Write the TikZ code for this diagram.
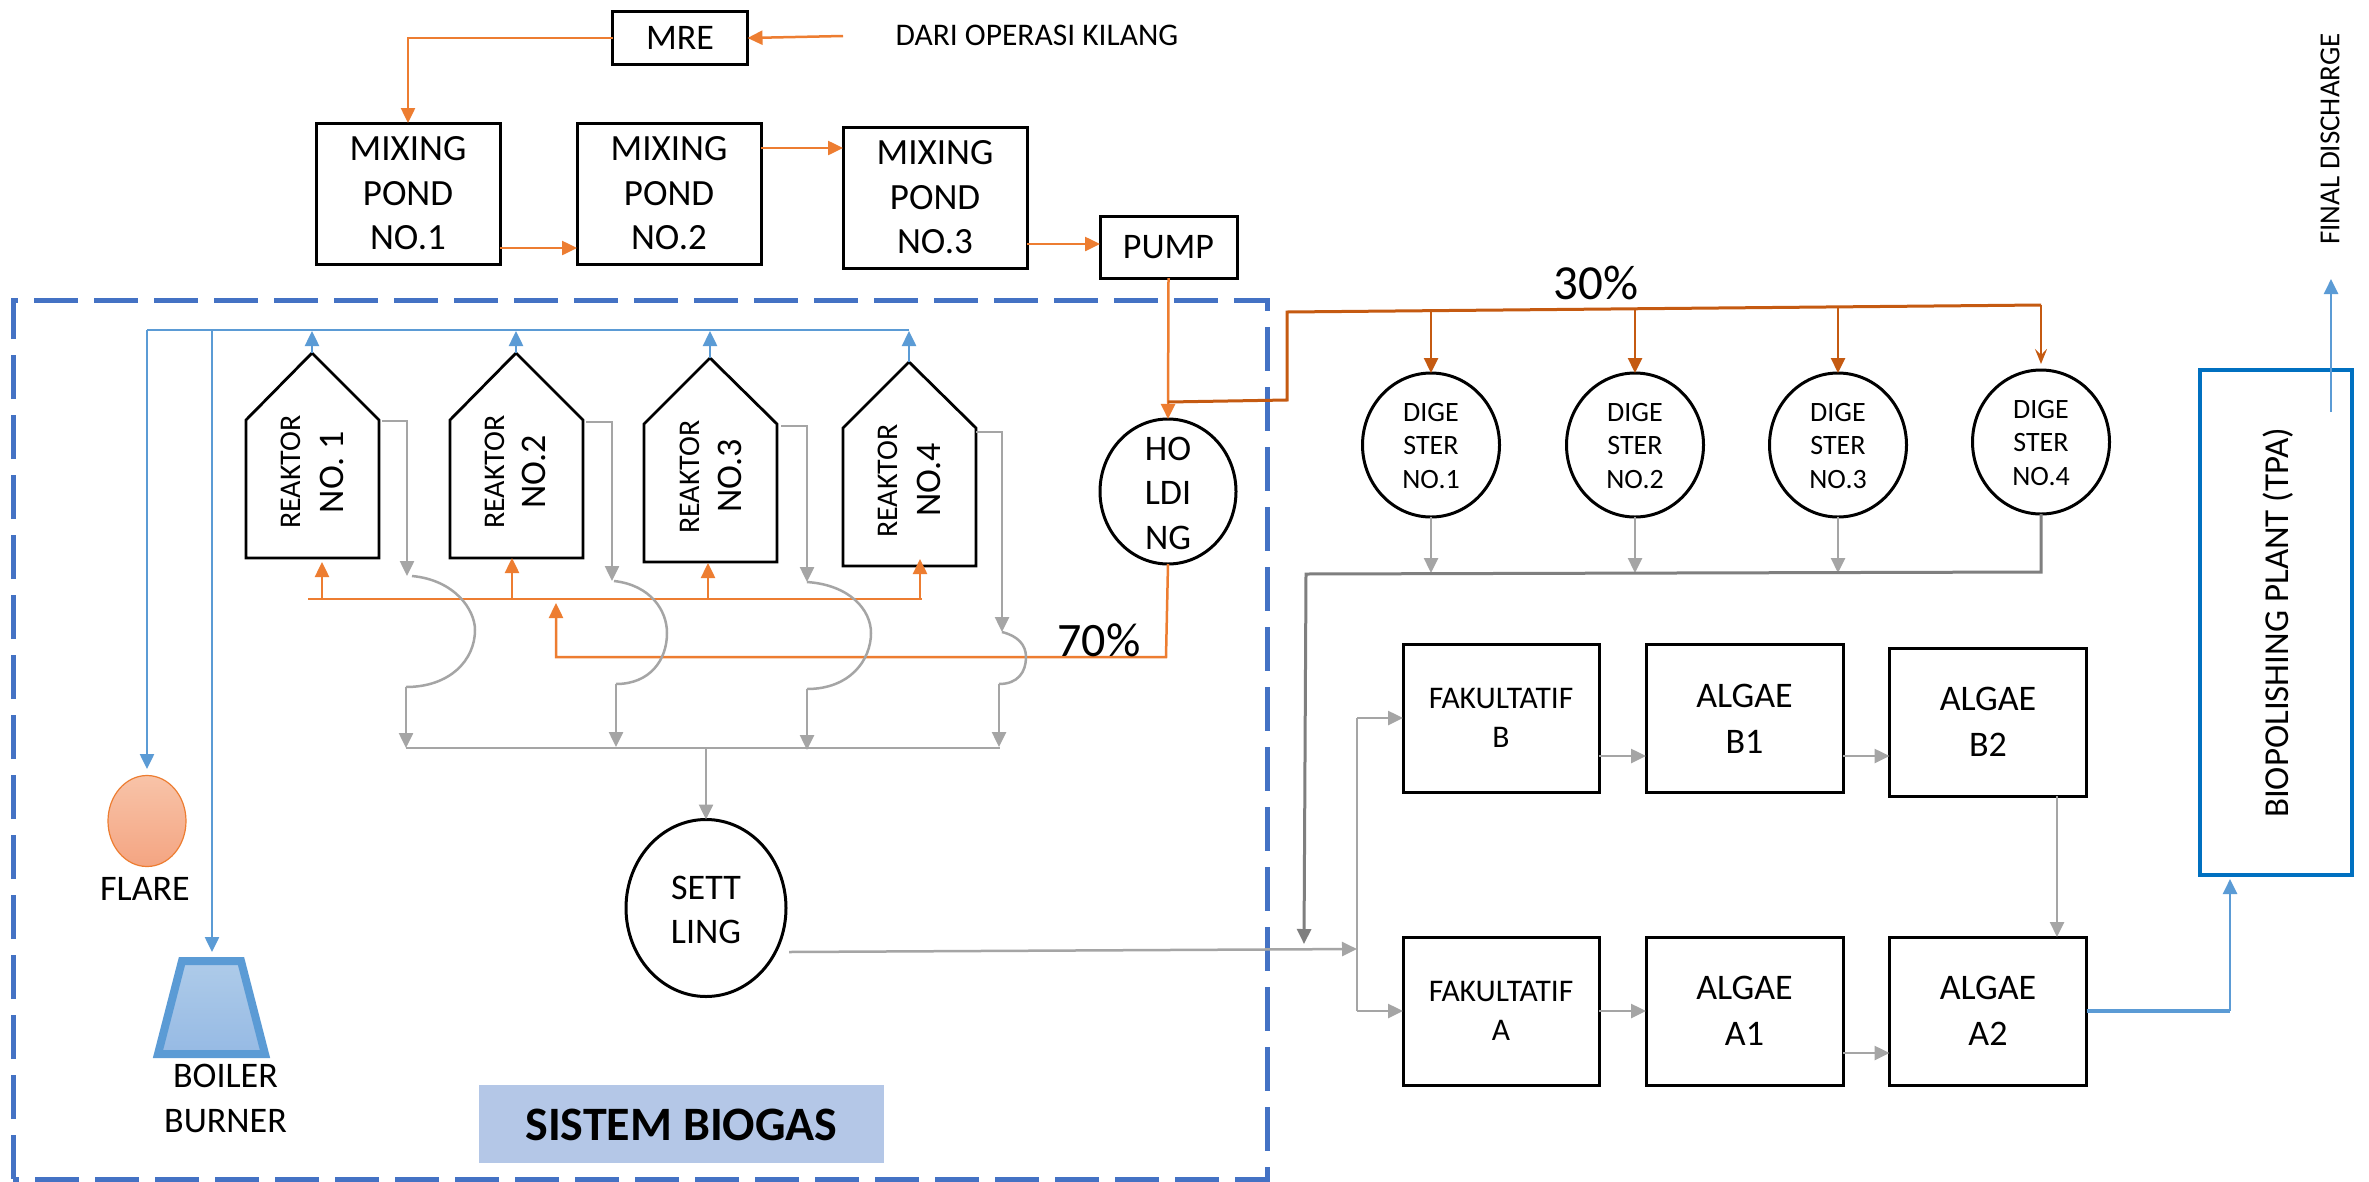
\documentclass[tikz,border=0pt]{standalone}
\usepackage{fontspec}
\setmainfont{Carlito}
\usetikzlibrary{arrows.meta,calc,shapes.geometric}
\definecolor{og}{HTML}{ED7D31}
\definecolor{dog}{HTML}{C55A11}
\definecolor{gy}{HTML}{A5A5A5}
\definecolor{dgy}{HTML}{7F7F7F}
\definecolor{bl}{HTML}{5B9BD5}
\definecolor{dsh}{HTML}{4472C4}
\definecolor{tpa}{HTML}{0070C0}
\definecolor{flt}{HTML}{F8C3A8}
\definecolor{flb}{HTML}{F4A582}
\definecolor{bot}{HTML}{AECBE9}
\definecolor{bob}{HTML}{96BAE4}
\definecolor{sb}{HTML}{B4C7E7}
\newcommand{\fs}[2]{\fontsize{#1}{#2}\selectfont}
\tikzset{
 x=1pt,y=-1pt,
 every node/.style={inner sep=0pt,outer sep=0pt,align=center,text=black},
 bx/.style={draw=black,line width=3pt,rectangle,fill=white},
 mixbox/.style={bx,minimum width=184pt,minimum height=141pt,font=\fs{37}{44.5},execute at begin node={\rule{0pt}{28pt}}},
 fakbox/.style={bx,minimum width=196pt,minimum height=148pt,font=\fs{31.5}{39},execute at begin node={\rule{0pt}{24pt}}},
 algbox/.style={bx,minimum width=197pt,minimum height=148pt,font=\fs{36}{46},execute at begin node={\rule{0pt}{27pt}}},
 digest/.style={draw=black,line width=3pt,ellipse,minimum width=137pt,minimum height=144pt},
 dtxt/.style={font=\fs{28}{33.5}},
 big/.style={font=\fs{36}{44.5}},
 reak/.style={draw=black,line width=2.8pt,line join=miter},
 rtxt/.style={rotate=90,font=\fs{30}{30}},
 rno/.style={rotate=90,font=\fs{36}{36}},
 tip/.style={-{Triangle[length=15pt,width=14pt]}},
 ol/.style={draw=og,line width=2.5pt},
 olt/.style={ol,tip,color=og},
 bw/.style={draw=dog,line width=3pt},
 bwt/.style={draw=dog,line width=2.5pt,tip,color=dog},
 gl/.style={draw=gy,line width=2.5pt},
 glt/.style={gl,tip,color=gy},
 blu/.style={draw=bl,line width=2.5pt},
 blt/.style={blu,tip,color=bl},
}
\begin{document}
\begin{tikzpicture}
\useasboundingbox (0,0) rectangle (2369,1181);
% biogas frame
\node[fill=white,minimum width=2369pt,minimum height=1181pt,anchor=north west] (bg) at (0,0) {};
\draw[dsh,line width=5pt,dash pattern=on 44pt off 16pt] (13,1179) -- (13,300) -- (1267,300) -- (1267,1179) -- cycle;
% top
\node[bx,minimum width=135pt,minimum height=53pt,font=\fs{36}{36}] (mre) at (680,38) {MRE};
\node[font=\fs{31.5}{31.5}] (dari) at (1037,35) {DARI OPERASI KILANG};
\node[mixbox] (mix1) at (408,193.5) {MIXING\\POND\\NO.1};
\node[mixbox] (mix2) at (669,193.5) {MIXING\\POND\\NO.2};
\node[mixbox] (mix3) at (935,197.5) {MIXING\\POND\\NO.3};
\node[bx,minimum width=137pt,minimum height=62pt,font=\fs{36}{36}] (pump) at (1168.5,247) {PUMP};
\coordinate (srcin) at (843,36);
\draw[olt] (srcin) -- (mre.east);
\draw[olt] (mre.west) -| (mix1.north);
\draw[olt] (mix1.east |- 0,248) -- (mix2.west |- 0,248);
\draw[olt] (mix2.east |- 0,148) -- (mix3.west |- 0,148);
\draw[olt] (mix3.east |- 0,244) -- (pump.west |- 0,244);
% holding
\node[digest,minimum width=136pt,minimum height=145pt] (hold) at (1168,491.5) {};
\node[big] (holdt) at (1168,493) {HO\\LDI\\NG};
\draw[olt] (pump.south) -- (hold.north);
% 30 percent
\coordinate (j30) at (1168,402);
\coordinate (k30) at (1287,400);
\coordinate (m30) at (1287,312);
\coordinate (n30) at (2041,305);
\draw[bw,line join=miter] (j30) -- (k30) -- (m30) -- (n30);
\node[font=\fs{49}{49}] (p30) at (1596,283) {30\%};
\node[digest] (d1) at (1431,445) {};
\node[digest] (d2) at (1635,445) {};
\node[digest] (d3) at (1838,445) {};
\node[digest] (d4) at (2041,442) {};
\node[dtxt] (d1t) at (1431,446) {DIGE\\STER\\NO.1};
\node[dtxt] (d2t) at (1635,446) {DIGE\\STER\\NO.2};
\node[dtxt] (d3t) at (1838,446) {DIGE\\STER\\NO.3};
\node[dtxt] (d4t) at (2041,443) {DIGE\\STER\\NO.4};
\draw[bwt] (d1.north |- 0,309) -- (d1.north);
\draw[bwt] (d2.north |- 0,308) -- (d2.north);
\draw[bwt] (d3.north |- 0,307) -- (d3.north);
\draw[draw=dog,color=dog,line width=2.5pt,-{Stealth[length=15pt,width=12pt,inset=6pt]}] (n30) -- ($(d4.north)+(0,-6)$);
% digesters down
\coordinate (g1) at (1306,574);
\coordinate (g2) at (2041,572);
\coordinate (g3) at (1304,944);
\draw[glt] (d1.south) -- (d1.south |- 0,573);
\draw[glt] (d2.south) -- (d2.south |- 0,573);
\draw[glt] (d3.south) -- (d3.south |- 0,573);
\draw[color=dgy,line width=3pt,tip] (d4.south) -- (g2) -- (g1) -- (g3);
% ponds
\node[fakbox] (fb) at (1501,718) {FAKULTATIF\\B};
\node[algbox] (b1) at (1744.5,718.5) {ALGAE\\B1};
\node[algbox] (b2) at (1988,722) {ALGAE\\B2};
\node[fakbox] (fa) at (1501,1011) {FAKULTATIF\\A};
\node[algbox] (a1) at (1744.5,1011) {ALGAE\\A1};
\node[algbox] (a2) at (1988,1011) {ALGAE\\A2};
\draw[glt] (fb.east |- 0,756) -- (b1.west |- 0,756);
\draw[glt] (b1.east |- 0,756) -- (b2.west |- 0,756);
\draw[glt] (fa.east) -- (a1.west);
\draw[glt] (a1.east |- 0,1053) -- (a2.west |- 0,1053);
\draw[glt] (b2.south -| 2057,0) -- (a2.north -| 2057,0);
\coordinate (sp) at (1357,949);
\draw[gl] (sp) -- (1357,718);
\draw[gl] (sp) -- (1357,1011);
\draw[glt] (1357,718) -- (fb.west |- 0,718);
\draw[glt] (1357,1011) -- (fa.west);
% TPA
\node[draw=tpa,line width=3.5pt,rectangle,minimum width=152pt,minimum height=505pt] (tpabox) at (2276,622.5) {};
\node[rotate=90,font=\fs{35}{35}] (tpatxt) at (2278,623) {BIOPOLISHING PLANT (TPA)};
\draw[blu,line width=3.5pt] (a2.east) -- (2230,1011);
\draw[blt] (2230,1011) -- ($(tpabox.south west)+(30,4)$);
\coordinate (fd) at (2331,279);
\draw[color=bl,line width=2.5pt,tip] (2331,412) -- (fd);
\node[rotate=90,font=\fs{29}{29}] (fdtxt) at (2330,139) {FINAL DISCHARGE};
% biogas gas manifold
\coordinate (mL) at (147,330);
\coordinate (mR) at (909,330);
\coordinate (mB) at (212,330);
\draw[blu] (mL) -- (mR);
% reactors
\foreach \n/\l/\r/\a/\t/\s/\b in {1/246/379/312/353/420/558,2/450/583/516/353/420/558,3/644/777/710/358/424/562,4/843/976/909/362/428/566}{
 \coordinate (rt\n) at (\a,\t);
 \draw[reak] (\l,\b) -- (\l,\s) -- (rt\n) -- (\r,\s) -- (\r,\b) -- cycle;
 \draw[blt] (rt\n) -- (\a,331);
}
\node[rtxt] (rk1) at (291,472) {REAKTOR};
\node[rno] (no1) at (332,472) {NO. 1};
\node[rtxt] (rk2) at (495,472) {REAKTOR};
\node[rno] (no2) at (534,472) {NO.2};
\node[rtxt] (rk3) at (690,477) {REAKTOR};
\node[rno] (no3) at (730,476) {NO.3};
\node[rtxt] (rk4) at (888,481) {REAKTOR};
\node[rno] (no4) at (929,480) {NO.4};
% orange feed
\coordinate (hL) at (308,599);
\coordinate (hR) at (922,599);
\draw[ol] (hL) -- (hR);
\draw[olt] (322,599) -- (322,562);
\draw[olt] (512,599) -- (512,558);
\draw[olt] (708,599) -- (708,563);
\draw[olt] (920,599) -- (920,559);
\draw[olt] (hold.south) -- (1166,657) -- (556,657) -- (556,603);
\node[font=\fs{48}{48}] (p70) at (1099,640) {70\%};
% gray loops
\draw[glt] (382,421) -- (407,421) -- (407,576);
\draw[gl] (412,576) .. controls (455,580) and (475,610) .. (475,630) .. controls (475,660) and (450,687) .. (406,687);
\draw[glt] (406,687) -- (406,748);
\draw[glt] (586,422) -- (612,422) -- (612,581);
\draw[gl] (614,581) .. controls (650,585) and (667,610) .. (667,633) .. controls (667,660) and (650,684) .. (616,684);
\draw[glt] (616,684) -- (616,747);
\draw[glt] (781,426) -- (807,426) -- (807,582);
\draw[gl] (807,582) .. controls (850,585) and (871,610) .. (871,633) .. controls (871,660) and (850,689) .. (807,689);
\draw[glt] (807,689) -- (807,750);
\draw[glt] (976,432) -- (1002,432) -- (1002,632);
\draw[gl] (1002,632) .. controls (1018,636) and (1026,645) .. (1026,657) .. controls (1026,672) and (1018,684) .. (999,684);
\draw[glt] (999,684) -- (999,747);
\coordinate (cL) at (406,748);
\coordinate (cR) at (1000,748);
\draw[gl] (cL) -- (cR);
% settling
\node[digest,minimum width=160pt,minimum height=177pt,fill=white] (sett) at (706,908) {};
\node[big] (settt) at (706,910) {SETT\\LING};
\draw[glt] (706,748) -- (sett.north);
\draw[glt] (789,952) -- (sp);
% flare & boiler
\node[ellipse,draw=og,line width=1.2pt,top color=flt,bottom color=flb,minimum width=78pt,minimum height=91pt] (flare) at (147,821) {};
\node[big] (flaretxt) at (145,889) {FLARE};
\draw[blt] (mL) -- (147,769);
\draw[blt] (mB) -- (212,952);
\coordinate (bt1) at (182,961); \coordinate (bt2) at (241,961);
\coordinate (bb1) at (158,1054); \coordinate (bb2) at (265,1054);
\draw[draw=bl,line width=8pt,line join=miter,top color=bot,bottom color=bob] (bt1) -- (bt2) -- (bb2) -- (bb1) -- cycle;
\node[font=\fs{36}{45}] (boiler) at (225.5,1098) {BOILER\\BURNER};
% label
\node[fill=sb,minimum width=405pt,minimum height=78pt] (lab) at (681.5,1124) {};
\node[font=\fs{48}{48}\bfseries] (labt) at (681.5,1125) {SISTEM BIOGAS};
\end{tikzpicture}
\end{document}
